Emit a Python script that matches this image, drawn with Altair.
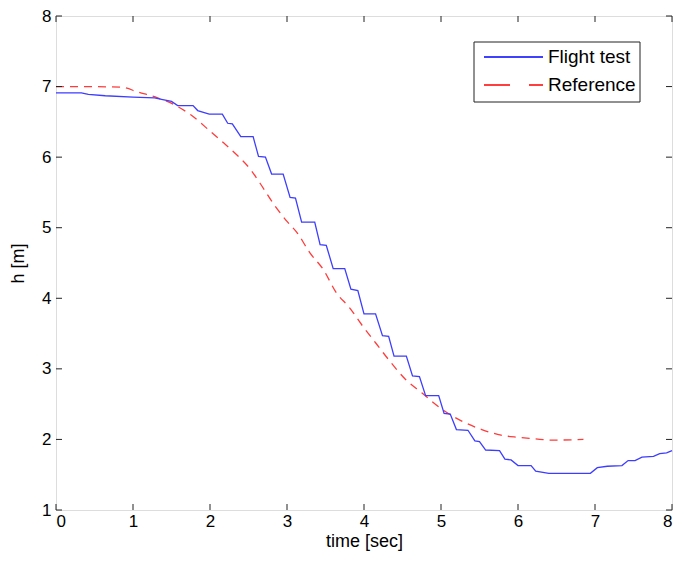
import altair as alt
import pandas as pd

# ---- data ----
flight_t = [0, 0.33, 0.42, 0.64, 1.0, 1.28, 1.37, 1.5, 1.58, 1.78, 1.84, 1.99, 2.16, 2.23, 2.29,
            2.40, 2.56, 2.63, 2.72, 2.80, 2.95, 3.04, 3.11, 3.19, 3.36, 3.43, 3.51, 3.60, 3.75,
            3.83, 3.92, 4.00, 4.15, 4.24, 4.32, 4.39, 4.55, 4.63, 4.72, 4.80, 4.97, 5.04, 5.12,
            5.20, 5.35, 5.44, 5.50, 5.58, 5.76, 5.83, 5.91, 6.00, 6.17, 6.23, 6.40, 6.94, 7.03,
            7.16, 7.35, 7.43, 7.52, 7.61, 7.76, 7.84, 7.93, 8.0]
flight_h = [6.91, 6.91, 6.89, 6.87, 6.85, 6.84, 6.82, 6.79, 6.73, 6.73, 6.66, 6.61, 6.61, 6.48, 6.47,
            6.29, 6.29, 6.01, 6.00, 5.76, 5.76, 5.43, 5.42, 5.08, 5.08, 4.76, 4.75, 4.42, 4.42,
            4.13, 4.11, 3.78, 3.78, 3.47, 3.46, 3.18, 3.18, 2.90, 2.89, 2.62, 2.62, 2.37, 2.36,
            2.14, 2.13, 1.98, 1.97, 1.85, 1.84, 1.72, 1.71, 1.63, 1.63, 1.55, 1.52, 1.52, 1.60,
            1.62, 1.63, 1.70, 1.70, 1.75, 1.76, 1.80, 1.81, 1.84]

ref_t = [0, 0.4, 0.85, 1.07, 1.32, 1.54, 1.75, 2.01, 2.18, 2.35, 2.53, 2.65, 2.83, 3.00, 3.13,
         3.30, 3.47, 3.64, 3.81, 3.98, 4.15, 4.32, 4.54, 4.75, 5.01, 5.27, 5.53, 5.78, 6.00,
         6.21, 6.43, 6.85]
ref_h = [7.00, 7.00, 6.99, 6.92, 6.84, 6.74, 6.60, 6.36, 6.20, 6.03, 5.82, 5.63, 5.33, 5.09, 4.93,
         4.64, 4.41, 4.08, 3.87, 3.61, 3.37, 3.13, 2.85, 2.66, 2.43, 2.26, 2.14, 2.06, 2.03,
         2.01, 1.99, 2.00]

x_ticks = [0, 1, 2, 3, 4, 5, 6, 7, 8]
y_ticks = [1, 2, 3, 4, 5, 6, 7, 8]
legend_labels = ["Flight test", "Reference"]

W, H = 616, 494
FONT = "Liberation Sans"
BLUE = "#3d3dff"
RED = "#ff3b3b"

flight = pd.DataFrame({"t": flight_t, "h": flight_h})
ref = pd.DataFrame({"t": ref_t, "h": ref_h})
xt = pd.DataFrame({"t": x_ticks})
yt = pd.DataFrame({"h": y_ticks})

xscale = alt.Scale(domain=[0, 8], nice=False, zero=False)
yscale = alt.Scale(domain=[1, 8], nice=False, zero=False)

xaxis = alt.Axis(values=x_ticks, format="d", ticks=False, grid=False, domain=False,
                 labelFontSize=17, labelFont=FONT, labelColor="black", labelPadding=3,
                 title="time [sec]", titleFont=FONT, titleFontSize=18,
                 titleFontWeight="normal", titleColor="black", titlePadding=3)
yaxis = alt.Axis(values=y_ticks, format="d", ticks=False, grid=False, domain=False,
                 labelFontSize=17, labelFont=FONT, labelColor="black", labelPadding=5,
                 title="h [m]", titleFont=FONT, titleFontSize=18,
                 titleFontWeight="normal", titleColor="black", titlePadding=14)

ref_line = alt.Chart(ref).mark_line(color=RED, strokeWidth=1.3, strokeDash=[8, 6],
                                    interpolate="monotone").encode(
    x=alt.X("t:Q", scale=xscale, axis=xaxis),
    y=alt.Y("h:Q", scale=yscale, axis=yaxis),
)
flight_line = alt.Chart(flight).mark_line(color=BLUE, strokeWidth=1.3).encode(
    x=alt.X("t:Q", scale=xscale),
    y=alt.Y("h:Q", scale=yscale),
)

TL = 6
tick_style = dict(color="#222", strokeWidth=1)
bottom_ticks = alt.Chart(xt).mark_rule(**tick_style).encode(
    x=alt.X("t:Q", scale=xscale), y=alt.value(H), y2=alt.value(H - TL))
top_ticks = alt.Chart(xt).mark_rule(**tick_style).encode(
    x=alt.X("t:Q", scale=xscale), y=alt.value(0), y2=alt.value(TL))
left_ticks = alt.Chart(yt).mark_rule(**tick_style).encode(
    y=alt.Y("h:Q", scale=yscale), x=alt.value(0), x2=alt.value(TL))
right_ticks = alt.Chart(yt).mark_rule(**tick_style).encode(
    y=alt.Y("h:Q", scale=yscale), x=alt.value(W), x2=alt.value(W - TL))

# legend box
LX1 = W - 32
LX0 = LX1 - 166
LY0, LY1 = 26, 86
legend_box = alt.Chart(pd.DataFrame({"a": [0]})).mark_rect(
    fill="white", stroke="#222", strokeWidth=1).encode(
    x=alt.value(LX0), x2=alt.value(LX1), y=alt.value(LY0), y2=alt.value(LY1))
leg_blue = alt.Chart(pd.DataFrame({"label": [legend_labels[0]]})).mark_rule(
    color="blue", strokeWidth=1.3).encode(
    x=alt.value(LX0 + 10), x2=alt.value(LX0 + 69), y=alt.value(LY0 + 15))
leg_red = alt.Chart(pd.DataFrame({"label": [legend_labels[1]]})).mark_rule(
    color="red", strokeWidth=1.3, strokeDash=[26, 19]).encode(
    x=alt.value(LX0 + 10), x2=alt.value(LX0 + 69), y=alt.value(LY0 + 43))
leg_text1 = alt.Chart(pd.DataFrame({"label": [legend_labels[0]]})).mark_text(
    align="left", baseline="middle", font=FONT, fontSize=19, color="black").encode(
    x=alt.value(LX0 + 74), y=alt.value(LY0 + 15), text="label:N")
leg_text2 = alt.Chart(pd.DataFrame({"label": [legend_labels[1]]})).mark_text(
    align="left", baseline="middle", font=FONT, fontSize=19, color="black").encode(
    x=alt.value(LX0 + 74), y=alt.value(LY0 + 43), text="label:N")

chart = alt.layer(
    ref_line, flight_line,
    bottom_ticks, top_ticks, left_ticks, right_ticks,
    legend_box, leg_blue, leg_red, leg_text1, leg_text2,
).properties(
    width=W, height=H,
    autosize=alt.AutoSizeParams(type="none"),
    padding={"left": 48, "top": 8, "right": 4, "bottom": 44},
).configure_view(
    stroke="#222", strokeWidth=1
).configure(background="white")

chart.save("out.html", embed_options={"renderer": "svg", "actions": False})
